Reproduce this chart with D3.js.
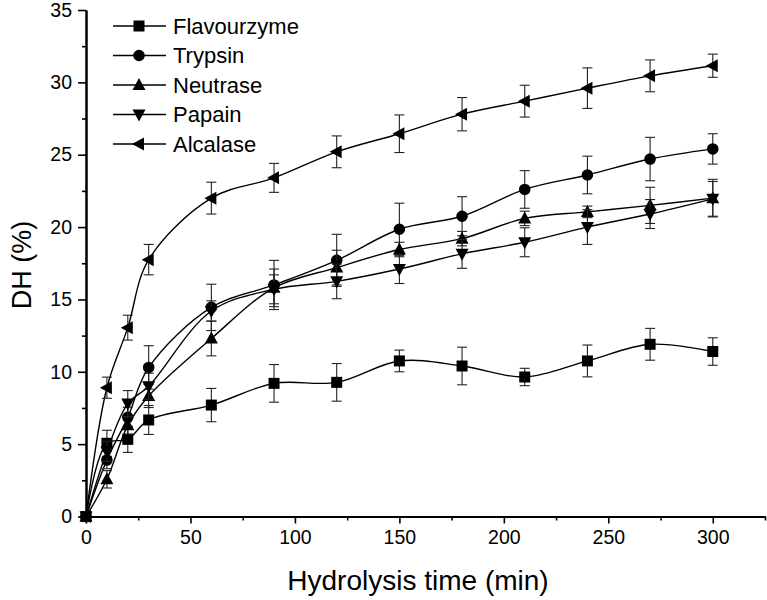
<!DOCTYPE html>
<html>
<head>
<meta charset="utf-8">
<script src="https://cdn.jsdelivr.net/npm/d3@7"></script>
<style>
body { margin: 0; background: #fff; }
svg text { font-family: "Liberation Sans", Arial, sans-serif; fill: #000; }
</style>
</head>
<body>
<div id="chart"></div>
<script>
var times = [0, 10, 20, 30, 60, 90, 120, 150, 180, 210, 240, 270, 300]

var flavourzyme = [0, 5.06, 5.33, 6.67, 7.7, 9.2, 9.27, 10.75, 10.4, 9.64, 10.75, 11.9, 11.4]
var flavourzymeErr = [0, 0.9, 0.9, 1.0, 1.15, 1.3, 1.3, 0.75, 1.3, 0.6, 1.1, 1.1, 0.95]
var trypsin = [0, 3.9, 6.85, 10.3, 14.45, 16.0, 17.7, 19.85, 20.75, 22.6, 23.6, 24.7, 25.4]
var trypsinErr = [0, 0.6, 0.7, 1.5, 1.6, 1.7, 1.8, 1.8, 1.35, 1.3, 1.3, 1.5, 1.05]
var neutrase = [0, 2.57, 6.3, 8.33, 12.3, 15.8, 17.2, 18.45, 19.2, 20.6, 21.05, 21.5, 22.0]
var neutraseErr = [0, 0.6, 0.6, 0.8, 1.2, 1.3, 1.2, 0.5, 0.5, 0.5, 0.4, 1.25, 1.3]
var papain = [0, 4.5, 7.8, 9.0, 14.2, 15.7, 16.25, 17.1, 18.15, 18.95, 20.0, 20.9, 21.95]
var papainErr = [0, 0.7, 0.9, 0.9, 0.7, 1.0, 1.2, 1.0, 1.0, 1.0, 1.2, 1.0, 1.2]
var alcalase = [0, 8.9, 13.05, 17.75, 22.0, 23.4, 25.2, 26.45, 27.8, 28.7, 29.6, 30.45, 31.15]
var alcalaseErr = [0, 0.73, 0.86, 1.05, 1.1, 1.0, 1.1, 1.3, 1.15, 1.1, 1.4, 1.1, 0.8]

var seriesNames = ['Flavourzyme', 'Trypsin', 'Neutrase', 'Papain', 'Alcalase']
var xTicks = [0, 50, 100, 150, 200, 250, 300]
var xMinor = [25, 75, 125, 175, 225, 275, 325]
var yTicks = [0, 5, 10, 15, 20, 25, 30, 35]
var yMinor = [2.5, 7.5, 12.5, 17.5, 22.5, 27.5, 32.5]

var series = [
	{name: seriesNames[0], values: flavourzyme, err: flavourzymeErr, symbol: 'square'},
	{name: seriesNames[1], values: trypsin, err: trypsinErr, symbol: 'circle'},
	{name: seriesNames[2], values: neutrase, err: neutraseErr, symbol: 'up'},
	{name: seriesNames[3], values: papain, err: papainErr, symbol: 'down'},
	{name: seriesNames[4], values: alcalase, err: alcalaseErr, symbol: 'left'},
]

var width = 767
var height = 600

var svg = d3.select('#chart').append('svg')
	.attr('width', width)
	.attr('height', height)

var xScale = d3.scaleLinear()
	.domain([0, 325])
	.range([86, 765])

var yScale = d3.scaleLinear()
	.domain([0, 35])
	.range([516.5, 10])

// marker shapes drawn as paths centred on 0,0
function markerPath(sym) {
	var s = 6
	if (sym == 'square') return 'M-5.5,-5.5h11v11h-11z'
	if (sym == 'circle') return d3.symbol().type(d3.symbolCircle).size(105)()
	if (sym == 'up') return 'M0,' + (-s - 1) + 'L' + (s + 0.5) + ',' + (s - 1) + 'L' + (-s - 0.5) + ',' + (s - 1) + 'Z'
	if (sym == 'down') return 'M0,' + (s + 1) + 'L' + (s + 0.5) + ',' + (-s + 1) + 'L' + (-s - 0.5) + ',' + (-s + 1) + 'Z'
	if (sym == 'left') return 'M' + (-s - 1) + ',0L' + (s - 1) + ',' + (-s - 0.5) + 'L' + (s - 1) + ',' + (s + 0.5) + 'Z'
}

// axes
svg.append('g')
	.attr('transform', 'translate(' + xScale(0) + ',0)')
	.call(d3.axisLeft(yScale).tickValues(yTicks).tickSize(8).tickSizeOuter(0).tickPadding(6))
svg.append('g')
	.attr('transform', 'translate(' + xScale(0) + ',0)')
	.call(d3.axisLeft(yScale).tickValues(yMinor).tickSize(4).tickSizeOuter(0).tickFormat(''))

svg.append('g')
	.attr('transform', 'translate(0,' + yScale(0) + ')')
	.call(d3.axisBottom(xScale).tickValues(xTicks).tickSize(7).tickSizeOuter(0).tickPadding(7))
svg.append('g')
	.attr('transform', 'translate(0,' + yScale(0) + ')')
	.call(d3.axisBottom(xScale).tickValues(xMinor).tickSize(4).tickSizeOuter(0).tickFormat(''))

svg.selectAll('.domain').attr('stroke', '#000').attr('stroke-width', 2)
svg.selectAll('.tick line').attr('stroke', '#000').attr('stroke-width', 1.6)
svg.selectAll('.tick text').style('font-size', '19.5px').attr('fill', '#000')

svg.append('text')
	.attr('x', 418)
	.attr('y', 590)
	.attr('text-anchor', 'middle')
	.style('font-size', '28px')
	.text('Hydrolysis time (min)')

svg.append('text')
	.attr('transform', 'translate(31,265) rotate(-90)')
	.attr('text-anchor', 'middle')
	.style('font-size', '27px')
	.text('DH (%)')

var line = d3.line()
	.x(function(d) { return xScale(d.t) })
	.y(function(d) { return yScale(d.v) })
	.curve(d3.curveCatmullRom.alpha(0.5))

series.forEach(function(s) {
	var pts = times.map(function(t, i) { return {t: t, v: s.values[i], e: s.err[i]} })
	var g = svg.append('g')

	g.append('path')
		.datum(pts)
		.attr('d', line)
		.attr('fill', 'none')
		.attr('stroke', '#000')
		.attr('stroke-width', 1.4)

	var bars = g.selectAll('.eb')
		.data(pts.filter(function(d) { return d.e > 0 }))
		.enter().append('g')
	bars.append('line')
		.attr('x1', function(d) { return xScale(d.t) })
		.attr('x2', function(d) { return xScale(d.t) })
		.attr('y1', function(d) { return yScale(d.v + d.e) })
		.attr('y2', function(d) { return yScale(d.v - d.e) })
		.attr('stroke', '#222')
		.attr('stroke-width', 1.1)
	bars.selectAll('.cap')
		.data(function(d) { return [{t: d.t, v: d.v + d.e}, {t: d.t, v: d.v - d.e}] })
		.enter().append('line')
		.attr('x1', function(d) { return xScale(d.t) - 5 })
		.attr('x2', function(d) { return xScale(d.t) + 5 })
		.attr('y1', function(d) { return yScale(d.v) })
		.attr('y2', function(d) { return yScale(d.v) })
		.attr('stroke', '#222')
		.attr('stroke-width', 1.1)

	g.selectAll('.m')
		.data(pts)
		.enter().append('path')
		.attr('d', markerPath(s.symbol))
		.attr('transform', function(d) { return 'translate(' + xScale(d.t) + ',' + yScale(d.v) + ')' })
		.attr('fill', '#000')
})

// legend
var legend = svg.append('g')
var legendRows = legend.selectAll('g')
	.data(series)
	.enter().append('g')
	.attr('transform', function(d, i) { return 'translate(0,' + (26 + i * 29.5) + ')' })
legendRows.append('line')
	.attr('x1', 113).attr('x2', 166)
	.attr('stroke', '#000').attr('stroke-width', 1.4)
legendRows.append('path')
	.attr('d', function(d) { return markerPath(d.symbol) })
	.attr('transform', 'translate(139,0)')
	.attr('fill', '#000')
legendRows.append('text')
	.attr('x', 173)
	.attr('dy', '0.36em')
	.style('font-size', '22px')
	.text(function(d) { return d.name })
</script>
</body>
</html>
